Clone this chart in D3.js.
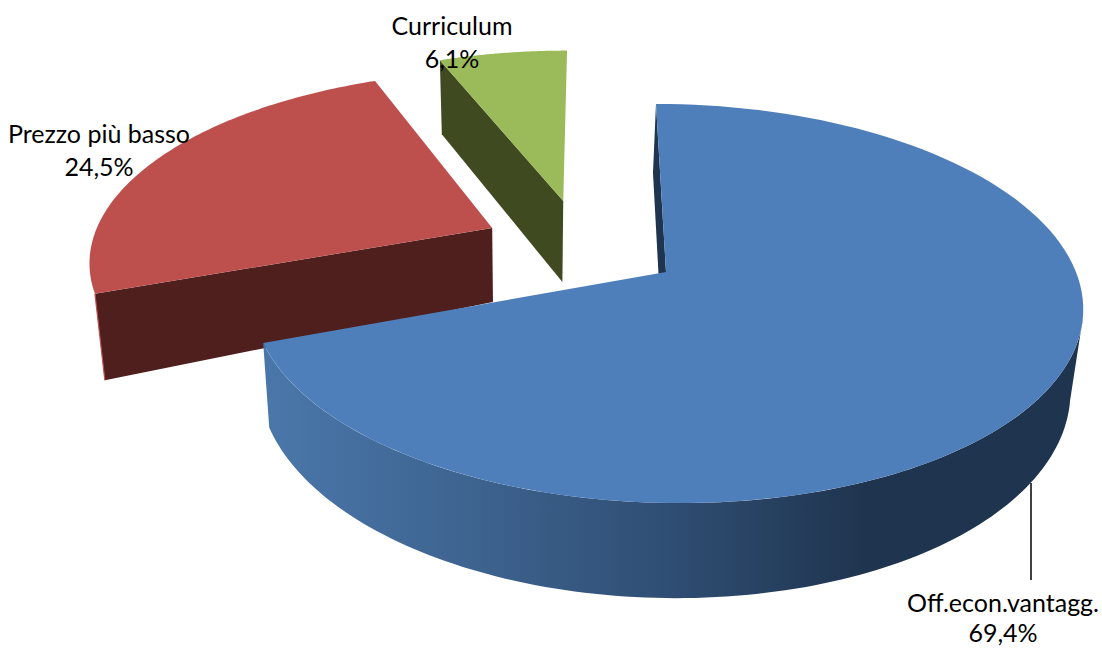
<!DOCTYPE html>
<html>
<head>
<meta charset="utf-8">
<script src="https://cdn.jsdelivr.net/npm/d3@7"></script>
<style>html,body{margin:0;padding:0;background:#fff}svg{display:block}</style>
</head>
<body>
<svg id="chart" width="1102" height="648"></svg>
<script>
const categories = ["Off.econ.vantagg.", "Prezzo più basso", "Curriculum"];
const values = [69.4, 24.5, 6.1];
const valueLabels = ["69,4%", "24,5%", "6,1%"];
const topColors = ["#4f7fbb", "#bd504d", "#9bba59"];
const sideColors = ["#1f344e", "#4f1f1e", "#3f4a21"];

// 3D layout of the pie: perspective ground plane, per-slice explosion and thickness
const view = {cx: 666, cy: 272, A: 410, K: 194.6, p: 0.158, shear: -11.6, fx: 526, sx: 0.977};
const explode = [[0, 0], [-0.433, 0.2346], [-0.255, 0.387]];
const depth = [{T: 80, m: 0.065}, {T: 74, m: 0.19}, {T: 81, m: 0.05}];

const svg = d3.select("#chart");
const defs = svg.append("defs");
const grad = defs.append("linearGradient").attr("id", "blueSide")
  .attr("gradientUnits", "userSpaceOnUse")
  .attr("x1", 265).attr("x2", 870).attr("y1", 0).attr("y2", 0);
[[0, "#4a77aa"], [0.3, "#3f6693"], [0.65, "#304f75"], [1, "#1f344e"]]
  .forEach(s => grad.append("stop").attr("offset", s[0]).attr("stop-color", s[1]));

const pie = d3.pie().sort(null).value(d => d).startAngle(0).endAngle(2 * Math.PI);
const arcs = pie(values);

function planePoint(theta, r, off) {
  const a = r * Math.sin(theta) + off[0], b = r * Math.cos(theta) + off[1];
  const w = 1 + view.p * b;
  return [view.cx + (view.A * a + view.shear * b) / w, view.cy - view.K * b / w];
}
function lower(pt, i, apexY) {
  return [view.fx + (pt[0] - view.fx) * view.sx,
          pt[1] + depth[i].T + depth[i].m * (pt[1] - apexY)];
}
const line = d3.line().curve(d3.curveLinear);
const thetas = (a0, a1) => d3.range(0, 121).map(k => a0 + (a1 - a0) * k / 120);

function drawSlice(i) {
  const g = svg.append("g");
  const d = arcs[i], off = explode[i];
  const apex = planePoint(0, 0, off);
  const apexLow = lower(apex, i, apex[1]);
  const pt = t => planePoint(t, 1, off);
  const low = p => lower(p, i, apex[1]);
  const startTop = pt(d.startAngle);
  const face = line([startTop, low(startTop), apexLow, apex]) + "Z";

  g.append("path").attr("d", face).attr("fill", sideColors[i]);
  if (i === 0) {
    // lit outer wall of the big slice
    const tw = thetas(103 * Math.PI / 180, d.endAngle);
    const wall = tw.map(pt).concat(tw.map(t => low(pt(t))).reverse());
    g.append("path").attr("d", line(wall) + "Z").attr("fill", "url(#blueSide)");
  } else if (i === 1) {
    // thin lit rim along the outer end of the front face
    g.append("path").attr("d", line([startTop, low(startTop)]))
      .attr("stroke", topColors[i]).attr("stroke-width", 1.2).attr("fill", "none");
  }

  // top face
  const rim = thetas(d.startAngle, d.endAngle).map(pt);
  g.append("path").attr("d", line([apex].concat(rim)) + "Z").attr("fill", topColors[i]);
}
[2, 1, 0].forEach(drawSlice);

// leader line
svg.append("line")
  .attr("x1", 1031).attr("x2", 1031).attr("y1", 483).attr("y2", 580)
  .attr("stroke", "#000").attr("stroke-width", 1.5);

// labels
const labelPos = [[1003, 612, 642], [99, 143, 176], [452, 35, 68]];
const fontFamily = "Lato, 'Open Sans', sans-serif";
labelPos.forEach((p, i) => {
  [categories[i], valueLabels[i]].forEach((txt, k) => {
    svg.append("text").attr("x", p[0]).attr("y", p[k + 1])
      .attr("text-anchor", "middle")
      .attr("font-family", fontFamily).attr("font-size", 25)
      .attr("fill", "#000").text(txt);
  });
});
</script>
</body>
</html>
